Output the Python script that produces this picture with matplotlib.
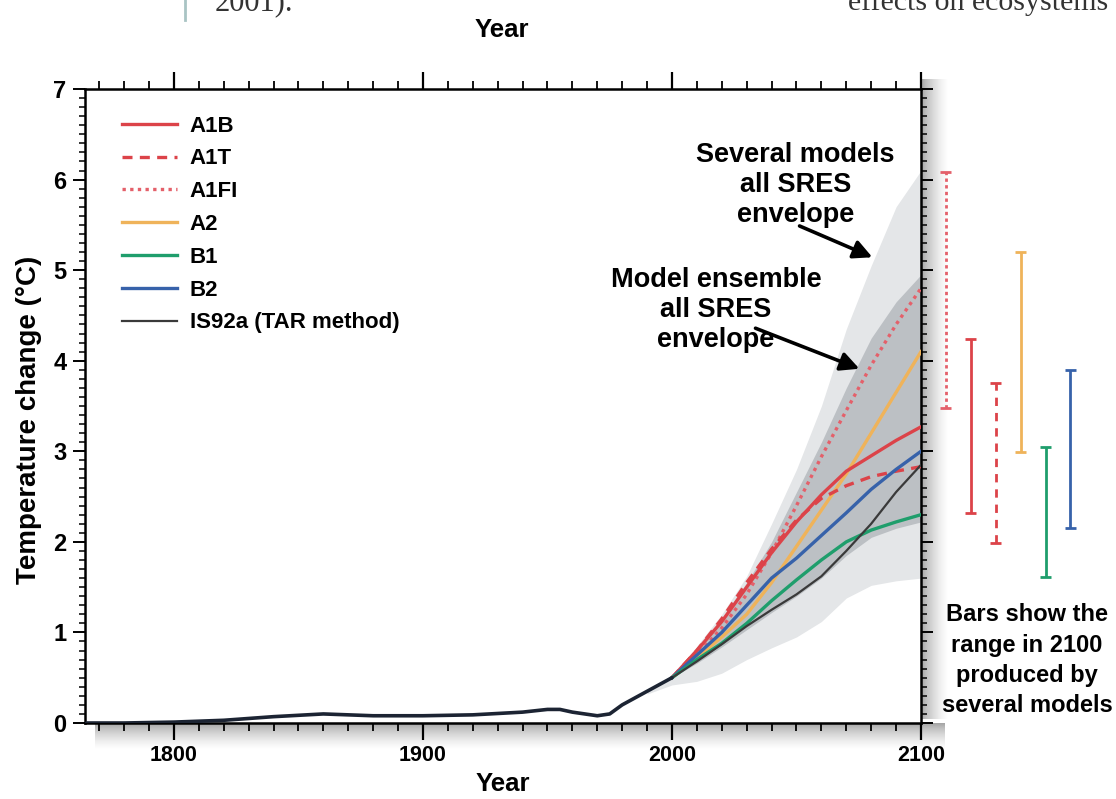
import matplotlib
matplotlib.use("Agg")
import matplotlib.pyplot as plt
import numpy as np

plt.rcParams["font.family"] = ["Liberation Sans", "DejaVu Sans"]
plt.rcParams["font.weight"] = "bold"

# historical period (1765-2000)
hist_years = [1765, 1780, 1800, 1820, 1840, 1860, 1880, 1900, 1920, 1940,
              1950, 1955, 1960, 1970, 1975, 1980, 1990, 2000]
hist_temp = [0.0, 0.0, 0.01, 0.03, 0.07, 0.1, 0.08, 0.08, 0.09, 0.12,
             0.15, 0.15, 0.12, 0.08, 0.1, 0.2, 0.35, 0.5]

# scenario projections 2000-2100
years = [2000, 2010, 2020, 2030, 2040, 2050, 2060, 2070, 2080, 2090, 2100]
a1b = [0.5, 0.8, 1.12, 1.5, 1.88, 2.22, 2.52, 2.78, 2.95, 3.12, 3.27]
a1t = [0.5, 0.8, 1.15, 1.55, 1.92, 2.24, 2.48, 2.62, 2.72, 2.78, 2.83]
a1fi = [0.5, 0.75, 1.05, 1.42, 1.88, 2.4, 2.94, 3.45, 3.95, 4.4, 4.8]
a2 = [0.5, 0.72, 0.95, 1.2, 1.55, 1.95, 2.35, 2.75, 3.2, 3.65, 4.1]
b1 = [0.5, 0.7, 0.88, 1.1, 1.35, 1.58, 1.8, 2.0, 2.13, 2.22, 2.3]
b2 = [0.5, 0.75, 1.0, 1.3, 1.6, 1.82, 2.07, 2.32, 2.58, 2.8, 3.0]
is92a = [0.5, 0.68, 0.87, 1.07, 1.25, 1.42, 1.62, 1.9, 2.2, 2.55, 2.85]

# envelopes
env_years = [1990, 2000, 2010, 2020, 2030, 2040, 2050, 2060, 2070, 2080,
             2090, 2100]
outer_hi = [0.37, 0.52, 0.85, 1.2, 1.62, 2.2, 2.8, 3.5, 4.35, 5.05, 5.7, 6.1]
outer_lo = [0.32, 0.42, 0.46, 0.55, 0.7, 0.83, 0.95, 1.12, 1.38, 1.52, 1.57,
            1.6]
inner_hi = [0.5, 0.8, 1.15, 1.55, 2.0, 2.55, 3.1, 3.7, 4.25, 4.65, 4.95]
inner_lo = [0.5, 0.66, 0.84, 1.03, 1.22, 1.4, 1.6, 1.85, 2.05, 2.15, 2.22]

# ranges in 2100 from several models (bars right of the plot)
bar_names = ["A1FI", "A1B", "A1T", "A2", "B1", "B2"]
bar_lo = [3.48, 2.32, 1.99, 2.99, 1.61, 2.15]
bar_hi = [6.08, 4.24, 3.75, 5.2, 3.05, 3.9]
bar_x = [2110, 2120, 2130, 2140, 2150, 2160]

RED = "#dc4349"
PINK = "#e4606a"
ORANGE = "#efb35a"
GREEN = "#1f9e6c"
BLUE = "#3762aa"
GREY_LINE = "#3a3a3a"
bar_colors = [PINK, RED, RED, ORANGE, GREEN, BLUE]
bar_styles = [(0, (1.2, 1.2)), "-", (0, (3, 2.5)), "-", "-", "-"]

W, H = 1116, 799
fig = plt.figure(figsize=(W / 100, H / 100), dpi=100)
fig.patch.set_facecolor("white")

# drop shadow of the frame (right and bottom)
grad = np.linspace(1, 0, 64)[None, :]
sh_r = fig.add_axes([921 / W, 80 / H, 26 / W, 640 / H], zorder=-2)
sh_r.imshow(grad, aspect="auto", cmap="Greys", vmin=0, vmax=2.2,
            extent=[0, 1, 0, 1])
sh_r.axis("off")
sh_b = fig.add_axes([95 / W, 50 / H, 850 / W, 26 / H], zorder=-2)
sh_b.imshow(grad.T, aspect="auto", cmap="Greys", vmin=0, vmax=2.2,
            extent=[0, 1, 0, 1])
sh_b.axis("off")

ax = fig.add_axes([85 / W, 76 / H, 836 / W, 634 / H])

ax.fill_between(env_years, outer_lo, outer_hi, color="#e4e6e8", lw=0, zorder=1)
ax.fill_between(years, inner_lo, inner_hi, color="#bcc0c4", lw=0, zorder=2)

ax.plot(hist_years, hist_temp, color="#1c2433", lw=2.6, zorder=5,
        solid_capstyle="round")

lw = 2.4
ax.plot(years, a1fi, color=PINK, lw=lw, ls=(0, (1.0, 1.3)), label="A1FI", zorder=4)
ax.plot(years, a2, color=ORANGE, lw=lw, label="A2", zorder=4)
ax.plot(years, a1b, color=RED, lw=lw, label="A1B", zorder=4)
ax.plot(years, a1t, color=RED, lw=lw, ls=(0, (3, 2.2)), label="A1T", zorder=4)
ax.plot(years, b2, color=BLUE, lw=lw, label="B2", zorder=4)
ax.plot(years, b1, color=GREEN, lw=lw, label="B1", zorder=4)
ax.plot(years, is92a, color=GREY_LINE, lw=1.6, label="IS92a (TAR method)",
        zorder=4)

handles, labels = ax.get_legend_handles_labels()
order = ["A1B", "A1T", "A1FI", "A2", "B1", "B2", "IS92a (TAR method)"]
hmap = dict(zip(labels, handles))
leg = ax.legend([hmap[k] for k in order], order, loc="upper left",
                bbox_to_anchor=(0.044, 0.958), frameon=False, fontsize=16,
                handlelength=2.5, handletextpad=0.55, labelspacing=0.53,
                borderpad=0, borderaxespad=0)
for t in leg.get_texts():
    t.set_fontweight("bold")

# ranges in 2100
for x, lo, hi, c, s in zip(bar_x, bar_lo, bar_hi, bar_colors, bar_styles):
    ax.vlines(x, lo, hi, colors=c, linestyles=s, lw=2.0, clip_on=False)
    ax.hlines([lo, hi], x - 2.2, x + 2.2, colors=c, lw=2.0, clip_on=False)

ax.annotate("", xy=(2081.5, 5.13), xytext=(2050.2, 5.5),
            arrowprops=dict(arrowstyle="-|>", color="black", lw=2.6,
                            mutation_scale=28))
ax.annotate("", xy=(2076.3, 3.9), xytext=(2032.5, 4.37),
            arrowprops=dict(arrowstyle="-|>", color="black", lw=2.6,
                            mutation_scale=28))
ax.text(2049.6, 6.42, "Several models\nall SRES\nenvelope", ha="center",
        va="top", fontsize=19.5, fontweight="bold", linespacing=1.2, zorder=6)
ax.text(2017.7, 5.04, "Model ensemble\nall SRES\nenvelope", ha="center",
        va="top", fontsize=19.5, fontweight="bold", linespacing=1.2, zorder=6)
ax.text(2142.6, 1.32, "Bars show the\nrange in 2100\nproduced by\nseveral models",
        ha="center", va="top", fontsize=17, fontweight="bold",
        linespacing=1.4, clip_on=False)

ax.set_xlim(1764.3, 2100)
ax.set_ylim(0, 7)
ax.set_xticks([1800, 1900, 2000, 2100])
ax.set_xticks(np.arange(1770, 2101, 10), minor=True)
ax.set_yticks(np.arange(0, 8, 1))
ax.set_yticks(np.arange(0, 7.01, 0.1), minor=True)
ax.tick_params(axis="x", which="major", direction="out", length=12, width=1.6,
               top=True, labelsize=15.5, pad=4)
ax.tick_params(axis="x", which="minor", direction="out", length=5.5, width=1.3,
               top=True)
ax.tick_params(axis="y", which="major", direction="out", length=8.5, width=1.4,
               right=True, labelsize=17, pad=5)
ax.tick_params(axis="y", which="minor", direction="out", length=4.3, width=1.1,
               right=True)
for lab in ax.get_xticklabels() + ax.get_yticklabels():
    lab.set_fontweight("bold")
for sp in ax.spines.values():
    sp.set_linewidth(1.8)

ax.set_xlabel("Year", fontsize=18.5, fontweight="bold", labelpad=4)
ax.set_ylabel("Temperature change (°C)", fontsize=20, fontweight="bold")
ax.yaxis.set_label_coords(-0.051, 0.478)
fig.text(502 / W, 1 - 30 / H, "Year", ha="center", va="center", fontsize=18.5,
         fontweight="bold")

# fragments of the surrounding page
fig.text(215 / W, 1 - 10 / H, "2001).", fontsize=22, family="Liberation Serif",
         fontweight="normal", color="#333333", va="baseline")
fig.text(848 / W, 1 - 10 / H, "effects on ecosystems in", fontsize=21.5,
         family="Liberation Serif", fontweight="normal", color="#333333",
         va="baseline")
fig.add_artist(plt.Line2D([185 / W, 185 / W], [1 - 20 / H, 1.0],
                          color="#a9c4c4", lw=2))

fig.savefig("out.png", dpi=100)
